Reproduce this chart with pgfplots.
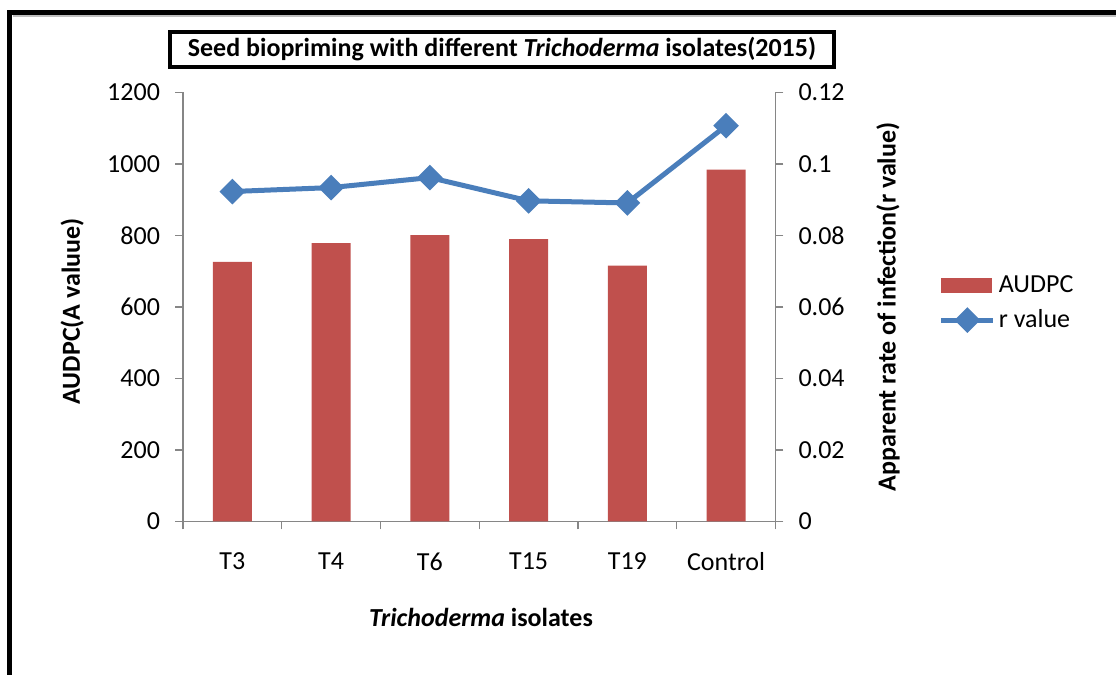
\documentclass[border=0pt]{standalone}
\usepackage{pgfplots}
\pgfplotsset{compat=1.18}
\usepackage{fontspec}
\setmainfont{Carlito}
\definecolor{barred}{HTML}{C0504D}
\definecolor{lineblue}{HTML}{4A7EBB}
\definecolor{axgray}{HTML}{868686}
\pgfplotsset{
  mylinelegend/.style={legend image code/.code={\draw[mark repeat=2,mark phase=2,##1] plot coordinates {(0pt,0pt) (13pt,0pt) (26pt,0pt)};}},
  mybarlegend/.style={legend image code/.code={\fill[barred] (0pt,-3.5pt) rectangle (25pt,3.5pt);}},
  mygeom/.style={
    at={(91.5pt,76.75pt)}, anchor=south west, scale only axis,
    width=296.25pt, height=214.5pt,
    xmin=-0.5, xmax=5.5,
    /pgf/number format/assume math mode=true,
    /pgf/number format/1000 sep={},
    axis line style={axgray, line width=0.6pt, -},
    tick style={axgray, line width=0.6pt},
    tick align=outside, major tick length=4pt,
  }
}

\begin{document}
\begin{tikzpicture}[font=\fontsize{13pt}{15.6pt}\selectfont]
\path[use as bounding box] (0pt,0pt) rectangle (558pt,337.5pt);
% outer frame (only left and top visible)
\draw[gray!50, line width=0.6pt] (6.3pt,329.5pt) -- (562pt,329.5pt);
\draw[line width=2.5pt] (4.75pt,-3pt) -- (4.75pt,331.25pt) -- (562pt,331.25pt);
% title box
\draw[line width=2pt] (85pt,304pt) rectangle (417pt,321.5pt);
\node at (251pt,312.75pt) {\bfseries Seed biopriming with different \textit{Trichoderma} isolates(2015)};

\begin{axis}[
  mygeom,
  ymin=0, ymax=1200,
  ytick={0,200,400,600,800,1000,1200},
  xtick={-0.5,0.5,1.5,2.5,3.5,4.5,5.5},
  x tick label as interval=true,
  xticklabels={T3,T4,T6,T15,T19,Control},
  xticklabel style={yshift=-8pt},
  yticklabel style={xshift=-4pt},
  axis x line*=bottom, axis y line*=left,
  xlabel={\bfseries\itshape Trichoderma\/\upshape\ isolates},
  xlabel style={at={(axis description cs:0.503,-0.2226)}, anchor=center},
  ylabel={\bfseries AUDPC(A valuue)},
  ylabel style={at={(axis description cs:-0.187,0.49)}, anchor=center, rotate=0},
]
\addplot[ybar, bar width=19.5pt, fill=barred, draw=none, bar shift=0pt]
  coordinates {(0,726) (1,779) (2,801) (3,790) (4,716) (5,984)};
\end{axis}

\begin{axis}[
  mygeom,
  ymin=0, ymax=0.12,
  ytick={0,0.02,0.04,0.06,0.08,0.1,0.12},
  yticklabels={0,0.02,0.04,0.06,0.08,0.1,0.12},
  yticklabel style={xshift=4pt},
  axis x line=none, axis y line*=right,
  ylabel={\bfseries Apparent rate of infection(r value)},
  ylabel style={at={(axis description cs:1.19,0.5)}, anchor=center, rotate=0},
  legend style={at={(axis description cs:1.275,0.509)}, anchor=west, draw=none, fill=none,
    row sep=3pt, inner xsep=0pt, nodes={inner xsep=1.5pt}},
  legend cell align=left,
]
\addlegendimage{mybarlegend}
\addlegendentry{AUDPC}
\addplot[lineblue, line width=2.5pt, mark=square*, mark size=3.3pt,
  mark options={rotate=45, solid, fill=lineblue}, mylinelegend]
  coordinates {(0,0.0923) (1,0.0934) (2,0.0962) (3,0.0897) (4,0.0891) (5,0.1107)};
\addlegendentry{r value}
\end{axis}
\end{tikzpicture}
\end{document}
